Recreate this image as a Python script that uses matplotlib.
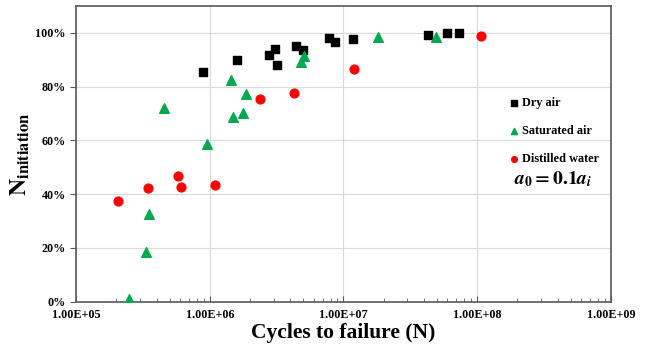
import numpy as np
import matplotlib
matplotlib.use('Agg')
import matplotlib.pyplot as plt
from matplotlib.ticker import FixedLocator, LogLocator, NullFormatter, PercentFormatter

plt.rcParams['font.family'] = 'Liberation Serif'
plt.rcParams['font.weight'] = 'bold'
plt.rcParams['mathtext.fontset'] = 'stix'

# cycles to failure and initiation fraction for each environment
dry_n = [8.85e5, 1.6e6, 2.77e6, 3.08e6, 3.18e6, 4.43e6, 4.99e6, 7.8e6, 8.57e6,
         1.175e7, 4.28e7, 6.0e7, 7.36e7]
dry_frac = [0.856, 0.900, 0.919, 0.942, 0.880, 0.950, 0.938, 0.982, 0.968,
            0.978, 0.994, 0.999, 0.999]

sat_n = [2.5e5, 3.33e5, 3.48e5, 4.54e5, 9.5e5, 1.43e6, 1.48e6, 1.78e6, 1.85e6,
         4.8e6, 5.1e6, 1.8e7, 4.95e7]
sat_frac = [0.009, 0.186, 0.326, 0.721, 0.587, 0.826, 0.686, 0.701, 0.772,
            0.892, 0.916, 0.984, 0.985]

water_n = [2.04e5, 3.44e5, 5.8e5, 6.08e5, 1.09e6, 2.36e6, 4.3e6, 1.2e7, 1.07e8]
water_frac = [0.374, 0.423, 0.466, 0.428, 0.435, 0.755, 0.775, 0.867, 0.987]

fig = plt.figure(figsize=(6.45, 3.47), dpi=100)
ax = fig.add_axes([0.118, 0.1305, 0.829, 0.852])

ax.scatter(dry_n, dry_frac, marker='s', s=40, color='black', label='Dry air', zorder=3)
ax.scatter(sat_n, sat_frac, marker='^', s=48, color='#00A84F', label='Saturated air', zorder=3)
ax.scatter(water_n, water_frac, marker='o', s=40, color='#FF0000', label='Distilled water', zorder=3)

ax.set_xscale('log')
ax.set_xlim(1e5, 1e9)
ax.set_ylim(0, 1.1)

ax.xaxis.set_major_locator(FixedLocator([1e5, 1e6, 1e7, 1e8, 1e9]))
ax.set_xticklabels(['1.00E+05', '1.00E+06', '1.00E+07', '1.00E+08', '1.00E+09'])
ax.xaxis.set_minor_locator(LogLocator(base=10, subs=np.arange(2, 10)))
ax.xaxis.set_minor_formatter(NullFormatter())
ax.set_yticks([0, 0.2, 0.4, 0.6, 0.8, 1.0])
ax.yaxis.set_major_formatter(PercentFormatter(1.0, decimals=0))

ax.tick_params(axis='x', which='major', length=4, direction='in', color='#595959',
               labelsize=8.7, pad=5)
ax.tick_params(axis='x', which='minor', length=3, direction='in', color='#595959')
ax.tick_params(axis='y', length=4, direction='out', color='#595959', labelsize=8.7)
for lab in ax.get_xticklabels() + ax.get_yticklabels():
    lab.set_fontweight('bold')

ax.grid(True, which='major', color='#d9d9d9', linewidth=0.8)
ax.set_axisbelow(True)
for sp in ax.spines.values():
    sp.set_color('#595959')
    sp.set_linewidth(1.2)

ax.set_xlabel('Cycles to failure (N)', fontsize=15.5, fontweight='bold', labelpad=2)
ax.set_ylabel(r'$\mathbf{N_{initiation}}$', fontsize=17, labelpad=2)

ax.legend(loc='upper left', bbox_to_anchor=(0.79, 0.728), frameon=False,
          markerscale=0.65, handlelength=0.8, handletextpad=0.2, labelspacing=1.3,
          prop={'family': 'Liberation Serif', 'weight': 'bold', 'size': 8.8})
ax.text(0.819, 0.415, r'$\boldsymbol{a_0 = 0.1a_i}$', transform=ax.transAxes,
        fontsize=14, va='center', ha='left')

fig.savefig('out.png', dpi=100)
